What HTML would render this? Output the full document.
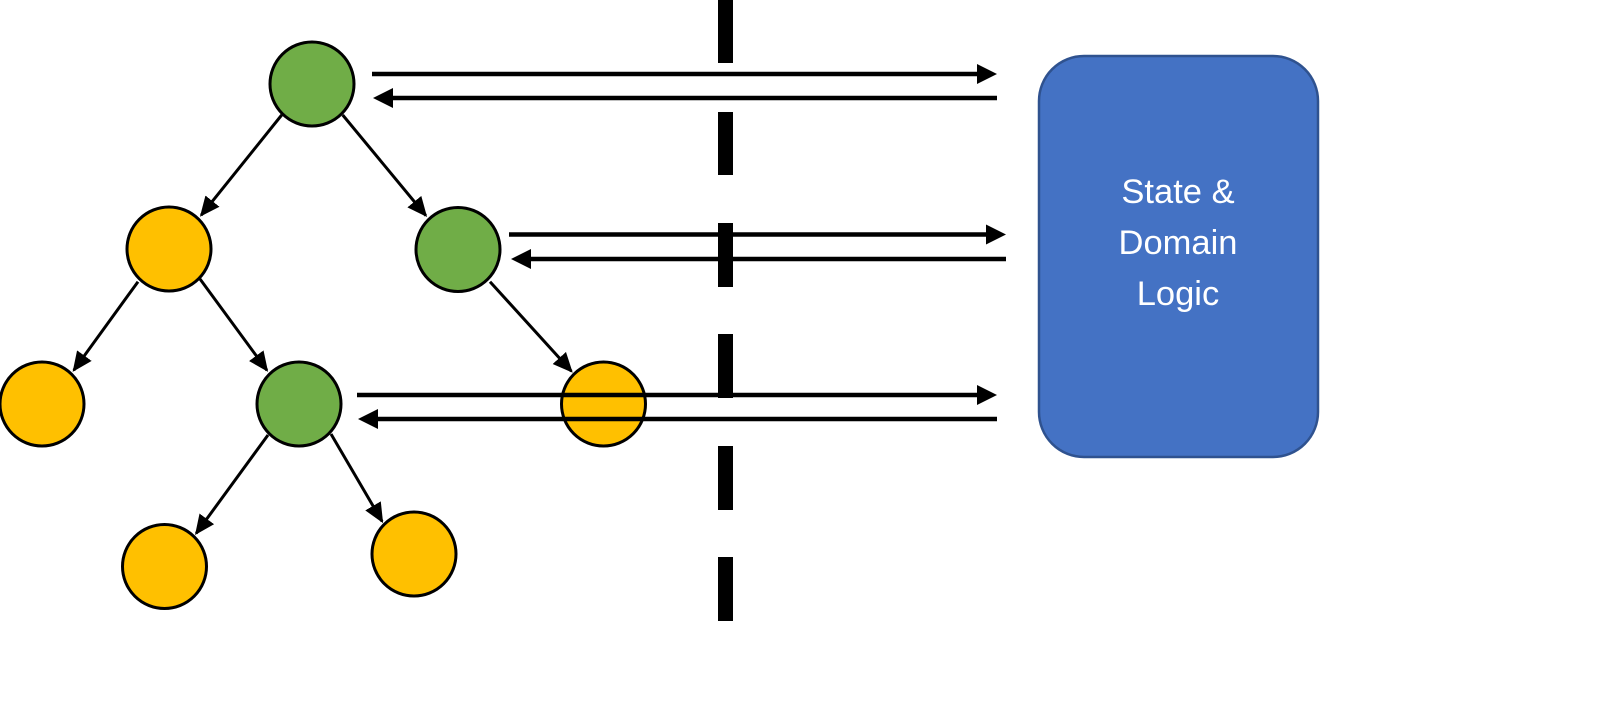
<!DOCTYPE html>
<html>
<head>
<meta charset="utf-8">
<style>
html,body{margin:0;padding:0;background:#fff;}
body{width:1600px;height:709px;overflow:hidden;}
svg{display:block;}
</style>
</head>
<body>
<svg width="1600" height="709" viewBox="0 0 1600 709" xmlns="http://www.w3.org/2000/svg">
  <defs>
    <marker id="ah" markerUnits="userSpaceOnUse" markerWidth="22" markerHeight="20" refX="18" refY="9" orient="auto">
      <path d="M0,0 L20,9 L0,18 z" fill="#000"/>
    </marker>
  </defs>
  <rect width="1600" height="709" fill="#fff"/>

  <!-- dashed divider -->
  <g fill="#000">
    <rect x="718" y="0" width="15" height="63"/>
    <rect x="718" y="112" width="15" height="63"/>
    <rect x="718" y="223" width="15" height="64"/>
    <rect x="718" y="334" width="15" height="64"/>
    <rect x="718" y="446" width="15" height="64"/>
    <rect x="718" y="557" width="15" height="64"/>
  </g>

  <!-- tree edges -->
  <g stroke="#000" stroke-width="3" fill="none" marker-end="url(#ah)">
    <line x1="281.7" y1="115" x2="201.2" y2="215.2"/>
    <line x1="342.7" y1="115" x2="425.8" y2="215.5"/>
    <line x1="138" y1="281.7" x2="73.8" y2="370.2"/>
    <line x1="200" y1="279" x2="266.9" y2="370.2"/>
    <line x1="490" y1="281.7" x2="571.4" y2="371.3"/>
    <line x1="268" y1="435" x2="196.2" y2="533.4"/>
    <line x1="331" y1="434" x2="382.1" y2="521.4"/>
  </g>

  <!-- nodes -->
  <g stroke="#000" stroke-width="3">
    <circle cx="312" cy="84" r="42" fill="#70ad47"/>
    <circle cx="169" cy="249" r="42" fill="#ffc000"/>
    <circle cx="458" cy="249.5" r="42" fill="#70ad47"/>
    <circle cx="42" cy="404" r="42" fill="#ffc000"/>
    <circle cx="299" cy="404" r="42" fill="#70ad47"/>
    <circle cx="603.5" cy="404" r="42" fill="#ffc000"/>
    <circle cx="164.5" cy="566.5" r="42" fill="#ffc000"/>
    <circle cx="414" cy="554" r="42" fill="#ffc000"/>
  </g>

  <!-- horizontal arrows -->
  <g stroke="#000" stroke-width="4.5">
    <line x1="372" y1="74" x2="979" y2="74"/>
    <line x1="391" y1="98" x2="997" y2="98"/>
    <line x1="509" y1="234.5" x2="988" y2="234.5"/>
    <line x1="529" y1="259" x2="1006" y2="259"/>
    <line x1="357" y1="395" x2="979" y2="395"/>
    <line x1="376" y1="419" x2="997" y2="419"/>
  </g>
  <g fill="#000">
    <polygon points="997,74 977,64 977,84"/>
    <polygon points="373,98 393,88 393,108"/>
    <polygon points="1006,234.5 986,224.5 986,244.5"/>
    <polygon points="511,259 531,249 531,269"/>
    <polygon points="997,395 977,385 977,405"/>
    <polygon points="358,419 378,409 378,429"/>
  </g>

  <!-- state box -->
  <rect x="1039" y="56" width="279" height="401" rx="45" ry="45" fill="#4472c4" stroke="#2f528f" stroke-width="2.5"/>
  <g fill="#fff" font-family="'Liberation Sans', 'DejaVu Sans', sans-serif" font-size="34.5" text-anchor="middle">
    <text x="1178" y="203">State &amp;</text>
    <text x="1178" y="254">Domain</text>
    <text x="1178" y="305">Logic</text>
  </g>
</svg>
</body>
</html>
